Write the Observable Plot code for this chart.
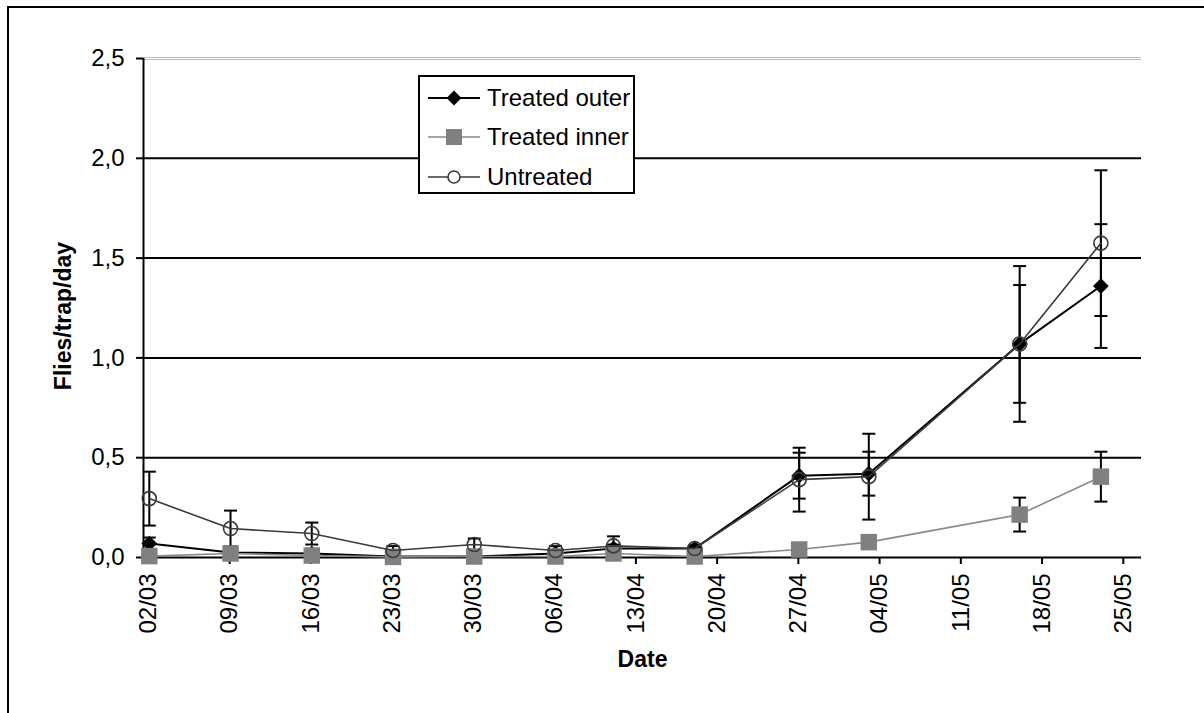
<!DOCTYPE html>
<html><head><meta charset="utf-8">
<script src="https://cdn.jsdelivr.net/npm/d3@7"></script>
<script src="https://cdn.jsdelivr.net/npm/@observablehq/plot@0.6"></script>
<style>
body{margin:0;background:#fff;font-family:"Liberation Sans",Arial,sans-serif;}
#wrap{position:relative;width:1204px;height:713px;overflow:hidden;}
#chart{position:absolute;left:0;top:0;}
#border{position:absolute;left:7px;top:6px;width:1300px;height:800px;border-left:2px solid #000;border-top:2px solid #000;pointer-events:none;}
#legend{position:absolute;left:418px;top:75px;width:213px;height:115px;border:2px solid #000;background:#fff;}
</style></head><body>
<div id="wrap"><div id="chart"></div><div id="border"></div><div id="legend"></div></div>
<script>
// ---- data ----
const dates = ["2009-03-02","2009-03-09","2009-03-16","2009-03-23","2009-03-30","2009-04-06",
               "2009-04-11","2009-04-18","2009-04-27","2009-05-03","2009-05-16","2009-05-23"];
const treatedOuter    = [0.07, 0.025, 0.02, 0.005, 0.005, 0.02, 0.045, 0.045, 0.41, 0.42, 1.07, 1.36];
const treatedOuterErr = [0.03, 0.01, 0.01, 0.005, 0.005, 0.01, 0.02, 0.015, 0.115, 0.11, 0.295, 0.31];
const treatedInner    = [0.007, 0.02, 0.01, 0.003, 0.005, 0.005, 0.02, 0.005, 0.04, 0.077, 0.215, 0.405];
const treatedInnerErr = [0.005, 0.005, 0.005, 0.002, 0.003, 0.003, 0.01, 0.003, 0.01, 0.02, 0.085, 0.125];
const untreated       = [0.295, 0.145, 0.12, 0.035, 0.065, 0.035, 0.058, 0.045, 0.39, 0.405, 1.07, 1.575];
const untreatedErr    = [0.135, 0.09, 0.055, 0.022, 0.03, 0.022, 0.048, 0.015, 0.16, 0.215, 0.39, 0.365];
const seriesNames = ["Treated outer", "Treated inner", "Untreated"];
const xDomain = ["2009-03-02", "2009-05-27"];
const xTickDates = ["2009-03-02","2009-03-09","2009-03-16","2009-03-23","2009-03-30","2009-04-06","2009-04-13",
                    "2009-04-20","2009-04-27","2009-05-04","2009-05-11","2009-05-18","2009-05-25"];
const yTicks = [0, 0.5, 1.0, 1.5, 2.0, 2.5];
const gridValues = [0.5, 1.0, 1.5, 2.0];

// ---- build ----
const parse = d3.utcParse("%Y-%m-%d");
const halfDay = 12 * 3600 * 1000;
const valuesBy = [treatedOuter, treatedInner, untreated];
const errsBy = [treatedOuterErr, treatedInnerErr, untreatedErr];
const rows = seriesNames.map((s, k) => dates.map((d, i) => ({
  series: s, date: new Date(parse(d).getTime() + halfDay), value: valuesBy[k][i], err: errsBy[k][i]
})));
const allRows = rows.flat();
const cap = {draw(ctx) { ctx.moveTo(-6.5, 0); ctx.lineTo(6.5, 0); }};
const fmtY = d => d.toFixed(1).replace(".", ",");

const chart = Plot.plot({
  width: 1204, height: 713,
  marginLeft: 143, marginRight: 63, marginTop: 58, marginBottom: 156,
  style: {fontFamily: "Liberation Sans, Arial, sans-serif", fontSize: "24px", color: "#000", background: "transparent"},
  x: {type: "utc", domain: xDomain.map(parse)},
  y: {domain: [0, 2.5]},
  marks: [
    Plot.ruleY(gridValues, {stroke: "#000", strokeWidth: 2}),
    Plot.ruleY([2.5], {stroke: "#bdbdbd", strokeWidth: 1, dy: -1}),
    Plot.ruleY([2.5], {stroke: "#bdbdbd", strokeWidth: 1, dy: 1}),
    Plot.axisY({ticks: yTicks, tickFormat: fmtY, tickSize: 7, tickPadding: 12, strokeWidth: 2, label: null, fontSize: 24}),
    Plot.axisX({ticks: xTickDates.map(parse), tickFormat: d3.utcFormat("%d/%m"), tickRotate: -90,
                tickSize: 7, tickPadding: 9, strokeWidth: 2, label: null, fontSize: 24, dx: 5}),
    Plot.ruleX([parse(xDomain[0])], {stroke: "#000", strokeWidth: 2}),
    Plot.ruleY([0], {stroke: "#000", strokeWidth: 2}),
    Plot.text(["Flies/trap/day"], {frameAnchor: "left", textAnchor: "middle", lineAnchor: "middle", rotate: -90, dx: -80, dy: 8, fontWeight: "bold", fontSize: 23}),
    Plot.text(["Date"], {frameAnchor: "bottom", textAnchor: "middle", lineAnchor: "middle", dy: 102, fontWeight: "bold", fontSize: 23}),
    // error bars
    Plot.ruleX(allRows, {x: "date", y1: d => d.value - d.err, y2: d => d.value + d.err, stroke: "#000", strokeWidth: 2}),
    Plot.dot(allRows, {x: "date", y: d => d.value + d.err, symbol: cap, r: 5, fill: "none", stroke: "#000", strokeWidth: 2}),
    Plot.dot(allRows, {x: "date", y: d => d.value - d.err, symbol: cap, r: 5, fill: "none", stroke: "#000", strokeWidth: 2}),
    // Treated outer
    Plot.line(rows[0], {x: "date", y: "value", stroke: "#000", strokeWidth: 2}),
    Plot.dot(rows[0], {x: "date", y: "value", symbol: "square", rotate: 45, r: 6.3, fill: "#000", stroke: "none"}),
    // Treated inner
    Plot.line(rows[1], {x: "date", y: "value", stroke: "#8a8a8a", strokeWidth: 1.6}),
    Plot.dot(rows[1], {x: "date", y: "value", symbol: "square", r: 9.3, fill: "#808080", stroke: "none"}),
    // Untreated
    Plot.line(rows[2], {x: "date", y: "value", stroke: "#3a3a3a", strokeWidth: 1.6}),
    Plot.dot(rows[2], {x: "date", y: "value", r: 7, fill: "none", stroke: "#3a3a3a", strokeWidth: 1.6})
  ]
});
document.getElementById("chart").appendChild(chart);

// ---- legend ----
const lg = d3.select("#legend").append("svg").attr("width", 213).attr("height", 115)
  .style("display", "block");
const legendStyles = [
  {stroke: "#000", sw: 2}, {stroke: "#8a8a8a", sw: 1.6}, {stroke: "#3a3a3a", sw: 1.6}
];
const rowY = [21, 60, 100];
seriesNames.forEach((name, i) => {
  const g = lg.append("g").attr("transform", `translate(0,${rowY[i]})`);
  g.append("line").attr("x1", 8).attr("x2", 60).attr("stroke", legendStyles[i].stroke).attr("stroke-width", legendStyles[i].sw);
  if (i === 0) g.append("path").attr("d", "M34,-7.5L41.5,0L34,7.5L26.5,0Z").attr("fill", "#000");
  if (i === 1) g.append("rect").attr("x", 26).attr("y", -8).attr("width", 16).attr("height", 16).attr("fill", "#808080");
  if (i === 2) g.append("circle").attr("cx", 34).attr("cy", 0).attr("r", 6).attr("fill", "#fff").attr("stroke", "#3a3a3a").attr("stroke-width", 1.6);
  g.append("text").attr("x", 67).attr("y", 0).attr("dy", "0.35em").attr("font-size", 24)
    .attr("font-family", "Liberation Sans, Arial, sans-serif").text(name);
});
</script>
</body></html>
